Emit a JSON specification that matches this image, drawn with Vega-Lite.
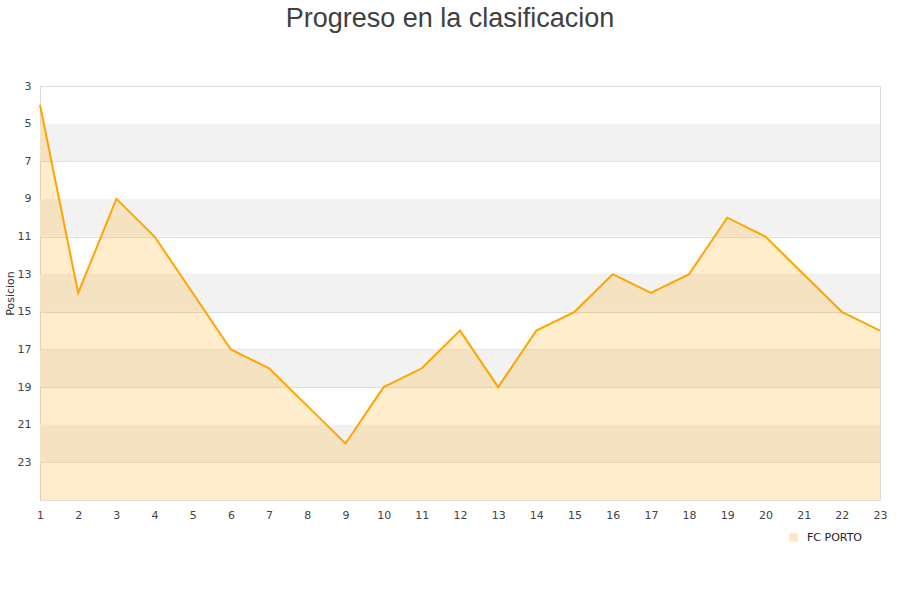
{
  "$schema": "https://vega.github.io/schema/vega-lite/v6.json",
  "autosize": "none",
  "width": 840,
  "height": 414,
  "padding": {"left": 40, "top": 86, "right": 20, "bottom": 100},
  "background": "white",
  "title": {
    "text": "Progreso en la clasificacion",
    "font": "Liberation Sans",
    "fontSize": 27,
    "fontWeight": "normal",
    "color": "#404040",
    "anchor": "middle",
    "frame": "group",
    "offset": 47,
    "dx": -10
  },
  "config": {
    "view": {"stroke": "#dddddd", "strokeWidth": 1},
    "axis": {
      "labelFont": "DejaVu Sans",
      "labelFontSize": 11,
      "labelColor": "#444444",
      "titleFont": "DejaVu Sans",
      "titleFontSize": 11,
      "titleFontWeight": "normal",
      "titleColor": "#333333",
      "domain": false,
      "ticks": false
    }
  },
  "datasets": {
    "bands": [
      {"from": 5, "to": 7},
      {"from": 9, "to": 11},
      {"from": 13, "to": 15},
      {"from": 17, "to": 19},
      {"from": 21, "to": 23}
    ],
    "progreso": [
      {"jornada": 1, "posicion": 4, "equipo": "FC PORTO"},
      {"jornada": 2, "posicion": 14, "equipo": "FC PORTO"},
      {"jornada": 3, "posicion": 9, "equipo": "FC PORTO"},
      {"jornada": 4, "posicion": 11, "equipo": "FC PORTO"},
      {"jornada": 5, "posicion": 14, "equipo": "FC PORTO"},
      {"jornada": 6, "posicion": 17, "equipo": "FC PORTO"},
      {"jornada": 7, "posicion": 18, "equipo": "FC PORTO"},
      {"jornada": 8, "posicion": 20, "equipo": "FC PORTO"},
      {"jornada": 9, "posicion": 22, "equipo": "FC PORTO"},
      {"jornada": 10, "posicion": 19, "equipo": "FC PORTO"},
      {"jornada": 11, "posicion": 18, "equipo": "FC PORTO"},
      {"jornada": 12, "posicion": 16, "equipo": "FC PORTO"},
      {"jornada": 13, "posicion": 19, "equipo": "FC PORTO"},
      {"jornada": 14, "posicion": 16, "equipo": "FC PORTO"},
      {"jornada": 15, "posicion": 15, "equipo": "FC PORTO"},
      {"jornada": 16, "posicion": 13, "equipo": "FC PORTO"},
      {"jornada": 17, "posicion": 14, "equipo": "FC PORTO"},
      {"jornada": 18, "posicion": 13, "equipo": "FC PORTO"},
      {"jornada": 19, "posicion": 10, "equipo": "FC PORTO"},
      {"jornada": 20, "posicion": 11, "equipo": "FC PORTO"},
      {"jornada": 21, "posicion": 13, "equipo": "FC PORTO"},
      {"jornada": 22, "posicion": 15, "equipo": "FC PORTO"},
      {"jornada": 23, "posicion": 16, "equipo": "FC PORTO"}
    ]
  },
  "layer": [
    {
      "data": {"name": "bands"},
      "mark": {"type": "rect", "color": "#f2f2f2"},
      "encoding": {
        "y": {"field": "from", "type": "quantitative", "scale": {"domain": [3, 25], "reverse": true}},
        "y2": {"field": "to"}
      }
    },
    {
      "data": {"name": "progreso"},
      "mark": {"type": "area", "fillOpacity": 0.2, "line": {"strokeWidth": 2, "color": "#ffa200"}},
      "encoding": {
        "x": {
          "field": "jornada",
          "type": "quantitative",
          "title": null,
          "scale": {"domain": [1, 23], "nice": false},
          "axis": {"values": [1,2,3,4,5,6,7,8,9,10,11,12,13,14,15,16,17,18,19,20,21,22,23], "grid": false, "labelPadding": 9, "labelFlush": false}
        },
        "y": {
          "field": "posicion",
          "type": "quantitative",
          "title": "Posicion",
          "scale": {"domain": [3, 25], "reverse": true, "nice": false, "zero": false},
          "axis": {"values": [3,5,7,9,11,13,15,17,19,21,23], "grid": true, "gridColor": "#dddddd", "labelPadding": 9, "titlePadding": 2},
          "stack": null
        },
        "y2": {"datum": 25},
        "color": {
          "field": "equipo",
          "type": "nominal",
          "scale": {"range": ["#ffa500"]},
          "legend": {
            "title": null,
            "orient": "none",
            "legendX": 748,
            "legendY": 446,
            "symbolType": "square",
            "symbolSize": 60,
            "symbolOpacity": 0.25,
            "symbolStrokeColor": "#3a2a10",
            "symbolStrokeWidth": 1,
            "labelFont": "DejaVu Sans",
            "labelFontSize": 11,
            "labelColor": "#222222",
            "labelOffset": 8
          }
        }
      }
    }
  ]
}
